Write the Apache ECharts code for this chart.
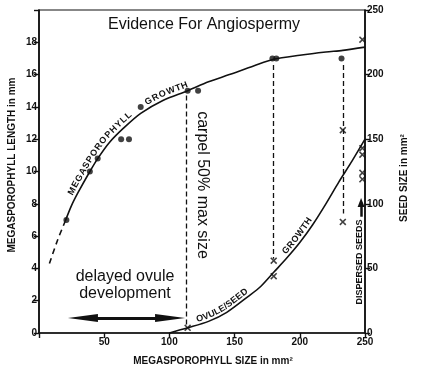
<!DOCTYPE html>
<html><head><meta charset="utf-8">
<script src="https://cdn.jsdelivr.net/npm/echarts@6/dist/echarts.min.js"></script>
<style>html,body{margin:0;padding:0;background:#fff}#c{width:423px;height:373px}</style>
</head><body><div id="c"></div>
<script>
// ---- data ----
const xTickLabels = [50, 100, 150, 200, 250];
const leftTickLabels = [0, 2, 4, 6, 8, 10, 12, 14, 16, 18];
const rightTickLabels = [0, 50, 100, 150, 200, 250];
// megasporophyll length (mm) vs megasporophyll size (mm2)
const lengthDots = [[21,7],[39,10],[45,10.8],[63,12],[69,12],[78,14],[114,15],[122,15],[179,17],[182,17],[232,17]];
const growthDashed = [[8,4.3],[14,5.7],[20,6.9]];
const growthCurve = [[20,6.9],[25,7.9],[30,8.7],[39,10],[45,10.8],[54,11.8],[65,12.7],[78,13.6],[95,14.4],[114,15],[130,15.55],[146,16],[165,16.55],[180,16.95],[200,17.2],[220,17.4],[233,17.5],[250,17.7]];
// seed size (mm2) vs megasporophyll size
const seedCurve = [[100,0],[114,4],[130,9],[144,16],[160,28],[170,36],[180,47],[190,58],[200,70],[210,84],[220,100],[230,117],[240,133],[250,150]];
const seedMarks = [[114,4],[180,56],[180,44],[233,157],[233,86],[248,227],[248,143],[248,138],[248,124],[248,119]];
// dashed verticals: x, top length, bottom length (left axis units)
const carpelLines = [[113,14.7,0.5],[180,16.6,4.6],[233,16.6,7.4]];
const delayedRange = [33.7, 100.5, 0.93];   // double arrow (x from, x to, length)
const dispersedArrow = [247, 90, 101];       // x, seed size from, to

const INK = '#111';
const FF = '"Liberation Sans", Arial, Helvetica, sans-serif';
const XSYM = 'path://M0,1.6L1.6,0L5,3.4L8.4,0L10,1.6L6.6,5L10,8.4L8.4,10L5,6.6L1.6,10L0,8.4L3.4,5Z';

const chart = echarts.init(document.getElementById('c'), null, {renderer: 'canvas'});
const tickLbl = {color: INK, fontFamily: FF, fontWeight: 'bold', fontSize: 10};

const option = {
  animation: false,
  backgroundColor: '#fff',
  grid: {left: 39, right: 58, top: 10, bottom: 40, show: true, borderColor: INK, borderWidth: 1.2, backgroundColor: 'transparent'},
  xAxis: {
    type: 'value', min: 0, max: 250, interval: 50,
    axisLine: {show: true, lineStyle: {color: INK, width: 1.7}},
    axisTick: {show: true, length: 5, lineStyle: {color: INK, width: 1.4}},
    axisLabel: Object.assign({margin: 4, formatter: v => xTickLabels.includes(v) ? String(v) : ''}, tickLbl),
    splitLine: {show: false}
  },
  yAxis: [{
    type: 'value', min: 0, max: 20, interval: 2, position: 'left',
    axisLine: {show: true, lineStyle: {color: INK, width: 1.7}},
    axisTick: {show: true, length: 5, lineStyle: {color: INK, width: 1.4}},
    axisLabel: Object.assign({margin: 2, formatter: v => leftTickLabels.includes(v) ? String(v) : ''}, tickLbl),
    splitLine: {show: false}
  }, {
    type: 'value', min: 0, max: 250, interval: 50, position: 'right',
    axisLine: {show: true, lineStyle: {color: INK, width: 1.7}},
    axisTick: {show: true, length: 5, lineStyle: {color: INK, width: 1.4}},
    axisLabel: Object.assign({margin: 2, formatter: v => rightTickLabels.includes(v) ? String(v) : ''}, tickLbl),
    splitLine: {show: false}
  }],
  series: [{
    type: 'line', data: growthDashed, yAxisIndex: 0, showSymbol: false, smooth: 0.3, silent: true,
    lineStyle: {color: INK, width: 1.6, type: [6, 4]},
    markLine: {
      silent: true, symbol: ['triangle', 'triangle'], symbolSize: [8, 30],
      lineStyle: {color: INK, width: 3, type: 'solid'}, label: {show: false},
      data: [[{coord: [delayedRange[0], delayedRange[2]]}, {coord: [delayedRange[1], delayedRange[2]]}]]
    }
  }, {
    type: 'line', data: growthCurve, yAxisIndex: 0, showSymbol: false, smooth: 0.3, silent: true,
    lineStyle: {color: INK, width: 1.6}
  }, {
    type: 'scatter', data: lengthDots, yAxisIndex: 0, symbol: 'circle', symbolSize: 6, silent: true,
    itemStyle: {color: INK},
    markLine: {
      silent: true, symbol: ['none', 'none'], label: {show: false},
      lineStyle: {color: INK, width: 1.3, type: [5, 3]},
      data: carpelLines.map(c => [{coord: [c[0], c[1]]}, {coord: [c[0], c[2]]}])
    }
  }, {
    type: 'line', data: seedCurve, yAxisIndex: 1, showSymbol: false, smooth: 0.3, silent: true,
    lineStyle: {color: INK, width: 1.6}
  }, {
    type: 'scatter', data: seedMarks, yAxisIndex: 1, symbol: XSYM, symbolSize: 7, silent: true,
    itemStyle: {color: INK},
    markLine: {
      silent: true, symbol: ['none', 'triangle'], symbolSize: [7, 9], label: {show: false},
      lineStyle: {color: INK, width: 2.5, type: 'solid'},
      data: [[{coord: [dispersedArrow[0], dispersedArrow[1]]}, {coord: [dispersedArrow[0], dispersedArrow[2]]}]]
    }
  }]
};
chart.setOption(option);

// ---- text along curves ----
function densify(pts) {
  const out = [];
  for (let i = 0; i < pts.length - 1; i++) {
    const p0 = pts[Math.max(i - 1, 0)], p1 = pts[i], p2 = pts[i + 1], p3 = pts[Math.min(i + 2, pts.length - 1)];
    for (let k = 0; k < 12; k++) {
      const t = k / 12, t2 = t * t, t3 = t2 * t;
      const f = (a, b, c, d) => 0.5 * (2 * b + (-a + c) * t + (2 * a - 5 * b + 4 * c - d) * t2 + (-a + 3 * b - 3 * c + d) * t3);
      out.push([f(p0[0], p1[0], p2[0], p3[0]), f(p0[1], p1[1], p2[1], p3[1])]);
    }
  }
  out.push(pts[pts.length - 1]);
  return out;
}
const mctx = document.createElement('canvas').getContext('2d');
function textAlong(str, data, yAxisIndex, startX, offset, size, spacing) {
  const px = densify(data.map(p => chart.convertToPixel({xAxisIndex: 0, yAxisIndex: yAxisIndex}, p)));
  const cum = [0];
  for (let i = 1; i < px.length; i++) cum.push(cum[i - 1] + Math.hypot(px[i][0] - px[i - 1][0], px[i][1] - px[i - 1][1]));
  const sx = chart.convertToPixel({xAxisIndex: 0}, startX);
  let s = 0;
  for (let i = 1; i < px.length; i++) { if (px[i][0] >= sx) { const r = (sx - px[i - 1][0]) / (px[i][0] - px[i - 1][0]); s = cum[i - 1] + r * (cum[i] - cum[i - 1]); break; } }
  function at(a) {
    let i = 1; while (i < px.length - 1 && cum[i] < a) i++;
    const r = (a - cum[i - 1]) / (cum[i] - cum[i - 1] || 1);
    const dx = px[i][0] - px[i - 1][0], dy = px[i][1] - px[i - 1][1], L = Math.hypot(dx, dy) || 1;
    return {x: px[i - 1][0] + r * dx, y: px[i - 1][1] + r * dy, dx: dx / L, dy: dy / L};
  }
  const font = 'bold ' + size + 'px ' + FF;
  mctx.font = font;
  const els = [];
  for (const ch of str) {
    const w = mctx.measureText(ch).width;
    const p = at(s + w / 2);
    if (ch !== ' ') els.push({
      type: 'text', silent: true, x: p.x + p.dy * offset, y: p.y - p.dx * offset,
      rotation: Math.atan2(-p.dy, p.dx),
      style: {text: ch, fontFamily: FF, fontWeight: 'bold', fontSize: size, fill: INK, align: 'center', verticalAlign: 'middle'}
    });
    s += w + spacing;
  }
  return els;
}

const txt = (x, y, text, size, weight, rot, extra) => Object.assign({
  type: 'text', silent: true, x: x, y: y, rotation: rot || 0,
  style: Object.assign({text: text, fontFamily: FF, fontWeight: weight, fontSize: size, fill: INK, align: 'center', verticalAlign: 'middle'}, extra || {})
});

const graphics = [
  txt(204, 25, 'Evidence For Angiospermy', 16, 'normal'),
  txt(12, 165, 'MEGASPOROPHYLL LENGTH in mm', 10, 'bold', Math.PI / 2),
  txt(404, 178, 'SEED SIZE in mm²', 10, 'bold', Math.PI / 2),
  txt(213, 361, 'MEGASPOROPHYLL SIZE in mm²', 10, 'bold'),
  txt(360, 262, 'DISPERSED SEEDS', 9, 'bold', Math.PI / 2),
  txt(202, 185, 'carpel 50% max size', 16, 'normal', -Math.PI / 2),
  txt(125, 285, 'delayed ovule\ndevelopment', 16, 'normal', 0, {lineHeight: 17})
]
.concat(textAlong('MEGASPOROPHYLL', growthCurve, 0, 28, 6, 9, 0.8))
.concat(textAlong('GROWTH', growthCurve, 0, 84, 6, 9, 0.8))
.concat(textAlong('OVULE/SEED', seedCurve, 1, 122, 5.5, 9, 0.3))
.concat(textAlong('GROWTH', seedCurve, 1, 191, 5.5, 9, 0.6));

chart.setOption({graphic: {elements: graphics}});
</script>
</body></html>
